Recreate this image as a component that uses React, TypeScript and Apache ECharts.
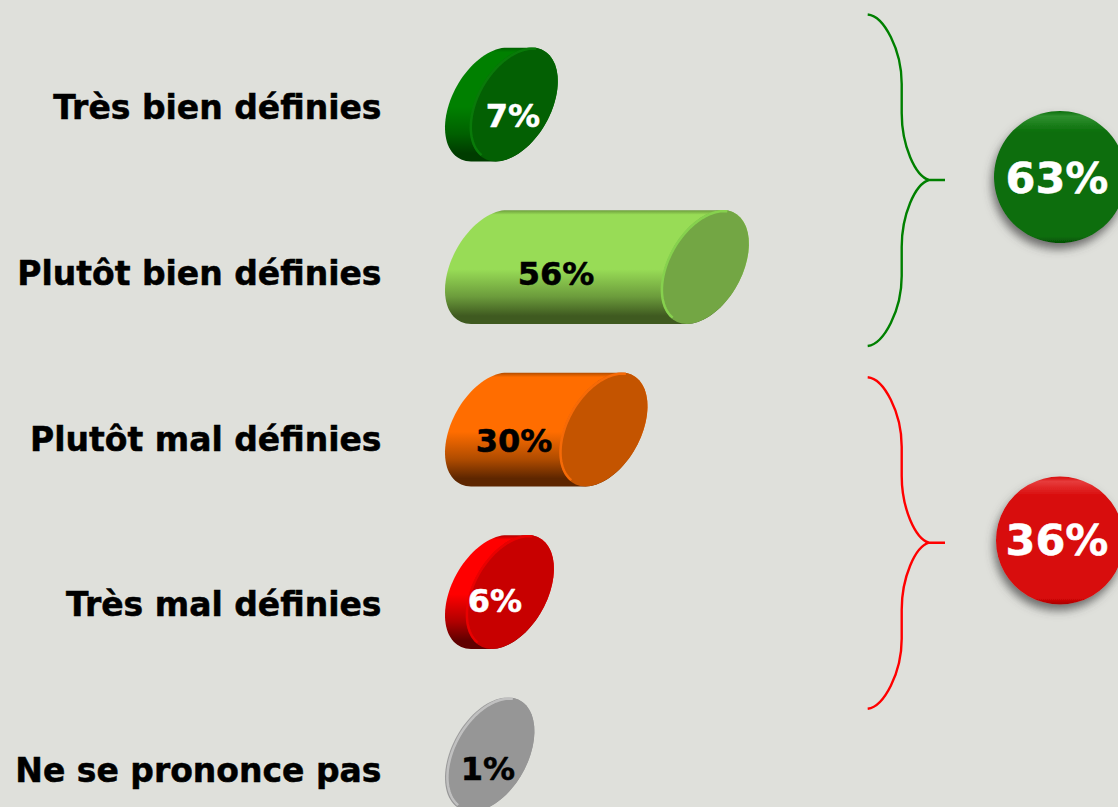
import React, { useEffect, useRef } from "react";
import * as echarts from "echarts";

const categories = ["Très bien définies", "Plutôt bien définies", "Plutôt mal définies", "Très mal définies", "Ne se prononce pas"];
const values = [7, 56, 30, 6, 1];
const groupTotals = [63, 36];

const bodyTop = ["#008000", "#98dc56", "#ff6d00", "#ff0000", "#9c9c9c"];
const bodyMid = ["#006000", "#6c9c3c", "#b04c00", "#b00000", "#9a9a9a"];
const bodyLow = ["#003c00", "#3f5a20", "#5e2600", "#600000", "#969696"];
const capFace = ["#036003", "#73a644", "#c45400", "#c80000", "#969696"];
const capRim = ["#0a7f0a", "#8ad850", "#ff6f08", "#ee0000", "#c8c8c8"];
const labelColors = ["#ffffff", "#000000", "#000000", "#ffffff", "#000000"];
const labelNudgeX = [-17.5, 25.5, -16.5, -35.5, -42.5];
const labelNudgeY = [11.5, 7, 11, 8.5, 14];

const FONT = "'DejaVu Sans', Verdana, sans-serif";
const BRACE = "M867.7 14.5 C884 16 901.7 50 901.7 84 L901.7 113 C901.7 145 915 176 929 180 L945 180 L929 180 C915 184 901.7 215 901.7 247 L901.7 276 C901.7 310 884 344 867.7 346";
const HALF_W = 44;
const SKEW = 18;

function arc(cx: number, cy: number, ry: number, from: number, to: number) {
  const rx = Math.sqrt(HALF_W * HALF_W - SKEW * SKEW);
  const pts: number[][] = [];
  const n = 48;
  for (let i = 0; i <= n; i++) {
    const t = ((from + ((to - from) * i) / n) * Math.PI) / 180;
    pts.push([cx + rx * Math.cos(t) - SKEW * Math.sin(t), cy + ry * Math.sin(t)]);
  }
  return pts;
}

function renderBar(params: any, api: any) {
  const i = params.dataIndex;
  const v = api.value(0);
  const end = api.coord([v, i]);
  const zero = api.coord([0, i]);
  const ry = (api.size([0, 1])[1] * 0.7) / 2;
  const cy = end[1];
  const capX = end[0] - HALF_W;
  const baseX = zero[0] - HALF_W + 2.5;
  const body = arc(capX, cy, ry, -90, 90).concat(arc(baseX, cy, ry, 90, 270));
  const cap = arc(capX, cy, ry, 0, 360);
  return {
    type: "group",
    children: [
      {
        type: "polygon",
        shape: { points: body },
        style: {
          fill: new echarts.graphic.LinearGradient(0, 0, 0, 1, [
            { offset: 0, color: bodyMid[i] },
            { offset: 0.04, color: bodyTop[i] },
            { offset: 0.52, color: bodyTop[i] },
            { offset: 0.76, color: bodyMid[i] },
            { offset: 0.93, color: bodyLow[i] },
            { offset: 1, color: bodyLow[i] },
          ]),
        },
      },
      {
        type: "polygon",
        shape: { points: cap },
        style: { fill: capFace[i] },
      },
      {
        type: "polyline",
        shape: { points: arc(capX + 1, cy, ry - 1, 115, 275) },
        style: { fill: "none", stroke: capRim[i], lineWidth: 2.5, opacity: 0.85 },
      },
      {
        type: "text",
        style: {
          text: `${v}%`,
          x: zero[0] + labelNudgeX[i],
          y: cy + labelNudgeY[i],
          align: "center",
          verticalAlign: "middle",
          fill: labelColors[i],
          fontFamily: FONT,
          fontWeight: "bold",
          fontSize: 32,
          stroke: labelColors[i],
          lineWidth: 0.5,
        },
      },
    ],
  };
}

function badge(cx: number, cy: number, r: number, total: number, nudgeY: number, top: string, main: string, low: string, shade: string) {
  return {
    type: "group",
    children: [
      {
        type: "circle",
        shape: { cx, cy, r },
        style: {
          fill: new echarts.graphic.LinearGradient(0, 0, 0, 1, [
            { offset: 0, color: main },
            { offset: 0.04, color: top },
            { offset: 0.16, color: main },
            { offset: 0.95, color: main },
            { offset: 1, color: low },
          ]),
          shadowBlur: 10,
          shadowOffsetX: -2,
          shadowOffsetY: 6,
          shadowColor: shade,
        },
      },
      {
        type: "text",
        style: {
          text: `${total}%`,
          x: cx - 3,
          y: cy + nudgeY,
          align: "center",
          verticalAlign: "middle",
          fill: "#ffffff",
          fontFamily: FONT,
          fontWeight: "bold",
          fontSize: 43,
          stroke: "#ffffff",
          lineWidth: 0.5,
        },
      },
    ],
  };
}

export default function App() {
  const ref = useRef<HTMLDivElement>(null);
  useEffect(() => {
    document.body.style.margin = "0";
    document.body.style.overflow = "hidden";
    echarts.graphic.registerShape("brace", echarts.graphic.extendPath(BRACE, {}) as any);
    const chart = echarts.init(ref.current!, null, { renderer: "svg" });
    chart.setOption({
      animation: false,
      backgroundColor: "#dfe0db",
      grid: [
        { left: 530.5, top: 23.25, width: 390, height: 812.5, outerBoundsMode: "none" },
        { left: 530.5, top: 24.6, width: 390, height: 829, outerBoundsMode: "none" },
      ],
      xAxis: [
        { type: "value", gridIndex: 0, min: 0, max: 100, show: false },
        { type: "value", gridIndex: 1, min: 0, max: 100, show: false },
      ],
      yAxis: [
        { type: "category", gridIndex: 0, data: categories, inverse: true, show: false },
        {
          type: "category",
          gridIndex: 1,
          data: categories,
          inverse: true,
          axisLine: { show: false },
          axisTick: { show: false },
          splitLine: { show: false },
          axisLabel: {
            margin: 149,
            color: "#000000",
            fontFamily: FONT,
            fontWeight: "bold",
            fontSize: 33,
            align: "right",
            textBorderColor: "#000000",
            textBorderWidth: 0.5,
          },
        },
      ],
      series: [
        {
          type: "custom",
          xAxisIndex: 0,
          yAxisIndex: 0,
          clip: false,
          renderItem: renderBar,
          encode: { x: 0, y: 1 },
          data: values.map((v, i) => [v, i]),
        },
      ],
      graphic: [
        { type: "brace", x: 0, y: 0, silent: true, style: { fill: "none", stroke: "#008000", lineWidth: 2.4 } },
        { type: "brace", x: 0, y: 362.7, silent: true, style: { fill: "none", stroke: "#ff0000", lineWidth: 2.4 } },
        badge(1060, 177, 66, groupTotals[0], 1, "#2f902f", "#0a6e0a", "#045004", "rgba(70,70,70,0.75)"),
        badge(1060, 540.5, 64, groupTotals[1], -1, "#e63c3c", "#d80808", "#a80000", "rgba(70,70,70,0.75)"),
      ],
    });
    return () => chart.dispose();
  }, []);
  return <div ref={ref} style={{ width: 1118, height: 807 }} />;
}
